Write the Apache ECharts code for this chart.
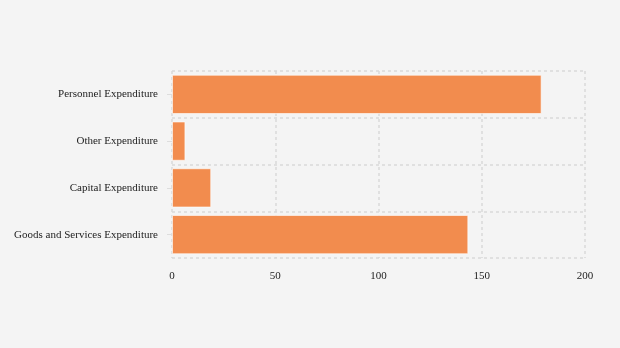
<!DOCTYPE html>
<html>
<head>
<meta charset="utf-8">
<script src="https://cdn.jsdelivr.net/npm/echarts@6/dist/echarts.min.js"></script>
<style>
  html, body { margin: 0; padding: 0; background: #f4f4f4; }
  #chart { width: 620px; height: 348px; }
</style>
</head>
<body>
<div id="chart"></div>
<script>
  // bottom to top, like the y axis
  let categories = ['Goods and Services Expenditure', 'Capital Expenditure', 'Other Expenditure', 'Personnel Expenditure'];
  let values = [143.5, 19, 6.5, 179];
  let xTicks = [0, 50, 100, 150, 200];

  let myChart = echarts.init(document.getElementById('chart'));
  let option = {
    backgroundColor: '#f4f4f4',
    textStyle: { fontFamily: 'Liberation Serif' },
    grid: { left: 172, right: 35, top: 71, bottom: 90 },
    xAxis: {
      type: 'value',
      min: xTicks[0],
      max: xTicks[xTicks.length - 1],
      interval: 50,
      axisLine: { show: false },
      axisTick: { show: false },
      axisLabel: { color: '#222', fontSize: 11, margin: 13, fontFamily: 'Liberation Serif' },
      splitLine: {
        show: true,
        lineStyle: { color: '#d9d9d9', type: [3, 3], width: 1.5 }
      }
    },
    yAxis: {
      type: 'category',
      data: categories,
      axisLine: { show: false },
      axisTick: { show: true, alignWithLabel: true, length: 5, lineStyle: { color: '#ddd' } },
      axisLabel: { color: '#222', fontSize: 11, margin: 14, fontFamily: 'Liberation Serif' },
      splitLine: {
        show: true,
        lineStyle: { color: '#d9d9d9', type: [3, 3], width: 1.5 }
      }
    },
    series: [
      {
        type: 'bar',
        data: values,
        barCategoryGap: '16%',
        itemStyle: {
          color: '#f28c4e',
          borderColor: 'rgba(255,255,255,0.6)',
          borderWidth: 1
        }
      }
    ]
  };
  myChart.setOption(option);
</script>
</body>
</html>
